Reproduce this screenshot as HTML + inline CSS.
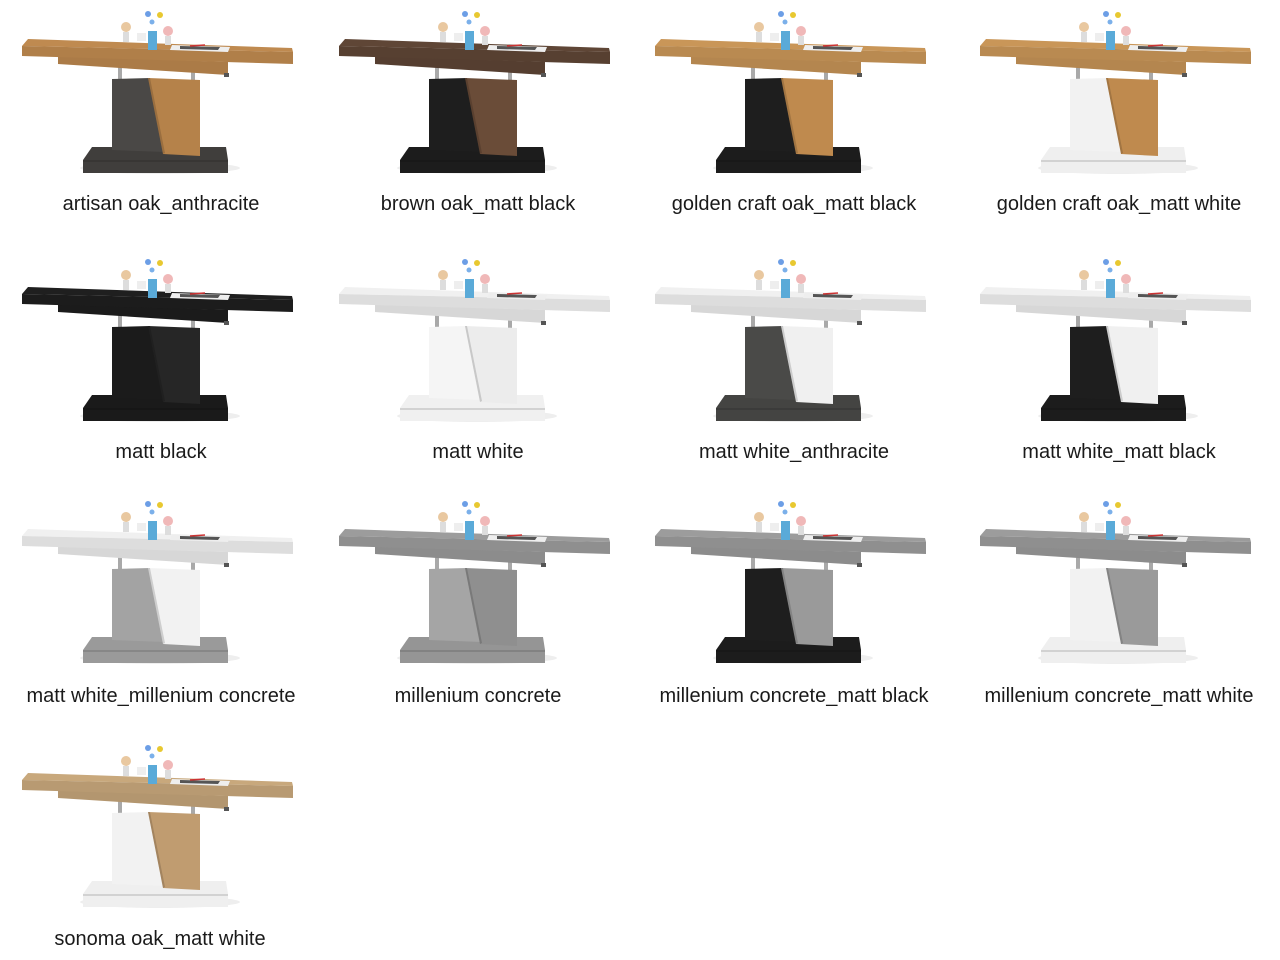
<!DOCTYPE html>
<html><head><meta charset="utf-8"><style>
html,body{margin:0;padding:0;background:#fff;width:1280px;height:960px;overflow:hidden}
svg{position:absolute;left:0;top:0}
.l{position:absolute;font-family:"Liberation Sans",sans-serif;font-size:20px;color:#1a1a1a;white-space:nowrap;transform:translateX(-50%)}
</style></head><body>
<svg width="1280" height="960" viewBox="0 0 1280 960">
<defs>
<g id="t">
  <ellipse cx="160" cy="168" rx="80" ry="6" fill="#eee"/>
  <polygon points="92,147 226,147 228,160 83,160" style="fill:var(--b)"/>
  <polygon points="83,160 228,160 228,173 83,173" style="fill:var(--b)"/>
  <polygon points="83,160 228,160 228,162 83,162" fill="#000" opacity=".12"/>
  <rect x="118" y="64" width="4" height="18" fill="#a9a9a9"/>
  <rect x="191" y="64" width="4" height="18" fill="#a9a9a9"/>
  <polygon points="112,79 150,78 165,152 112,150" style="fill:var(--c)"/>
  <polygon points="148,78 200,80 200,156 163,154" style="fill:var(--d)"/>
  <polygon points="148,78 150,78 165,153 163,154" fill="#000" opacity=".15"/>
  <polygon points="58,56 228,62 228,75 58,64" style="fill:var(--a)"/>
  <polygon points="58,56 228,62 228,75 58,64" fill="#000" opacity=".1"/>
  <polygon points="22,46 28,39 292,48 293,52" style="fill:var(--a)"/>
  <polygon points="22,46 293,52 293,64 22,56" style="fill:var(--a)"/>
  <polygon points="22,46 293,52 293,64 22,56" fill="#000" opacity=".08"/>
  <rect x="224" y="73" width="5" height="4" fill="#555"/>
  <rect x="148" y="31" width="9" height="19" fill="#5aaad8"/>
  <circle cx="148" cy="14" r="3" fill="#6c9ee6"/>
  <circle cx="160" cy="15" r="3" fill="#e8c830"/>
  <circle cx="152" cy="22" r="2.5" fill="#7bb0ea"/>
  <circle cx="126" cy="27" r="5" fill="#e9c8a0"/>
  <rect x="123" y="32" width="6" height="10" fill="#ddd"/>
  <circle cx="168" cy="31" r="5" fill="#f0b8b8"/>
  <rect x="165" y="36" width="6" height="9" fill="#ddd"/>
  <rect x="137" y="33" width="9" height="8" fill="#eee"/>
  <polygon points="172,45 230,47 228,52 170,50" fill="#eee"/>
  <polygon points="180,46 220,47 218,50 180,49" fill="#555"/>
  <line x1="190" y1="46" x2="205" y2="45" stroke="#c33" stroke-width="1.5"/>
</g>
</defs>
<use href="#t" x="0" y="0" style="--a:#bf8a50;--c:#4a4846;--d:#b5824a;--b:#403e3c"/>
<use href="#t" x="317" y="0" style="--a:#5f4636;--c:#1e1e1e;--d:#6a4c38;--b:#1c1c1c"/>
<use href="#t" x="633" y="0" style="--a:#c99658;--c:#1e1e1e;--d:#bf8a4e;--b:#1c1c1c"/>
<use href="#t" x="958" y="0" style="--a:#c99658;--c:#f2f2f2;--d:#bf8a4e;--b:#efefef"/>
<use href="#t" x="0" y="248" style="--a:#1f1f1f;--c:#1b1b1b;--d:#262626;--b:#1a1a1a"/>
<use href="#t" x="317" y="248" style="--a:#f0f0f0;--c:#f5f5f5;--d:#ececec;--b:#f0f0f0"/>
<use href="#t" x="633" y="248" style="--a:#f0f0f0;--c:#4a4a48;--d:#f0f0f0;--b:#444442"/>
<use href="#t" x="958" y="248" style="--a:#f0f0f0;--c:#1e1e1e;--d:#f0f0f0;--b:#1c1c1c"/>
<use href="#t" x="0" y="490" style="--a:#f0f0f0;--c:#a3a3a3;--d:#f2f2f2;--b:#9a9a9a"/>
<use href="#t" x="317" y="490" style="--a:#9c9c9c;--c:#a5a5a5;--d:#8f8f8f;--b:#959595"/>
<use href="#t" x="633" y="490" style="--a:#9c9c9c;--c:#1e1e1e;--d:#9a9a9a;--b:#1c1c1c"/>
<use href="#t" x="958" y="490" style="--a:#9c9c9c;--c:#f2f2f2;--d:#9a9a9a;--b:#efefef"/>
<use href="#t" x="0" y="734" style="--a:#c8a87c;--c:#f2f2f2;--d:#c09c70;--b:#efefef"/>
</svg>
<div class="l" style="left:161px;top:193px">artisan oak_anthracite</div>
<div class="l" style="left:478px;top:193px">brown oak_matt black</div>
<div class="l" style="left:794px;top:193px">golden craft oak_matt black</div>
<div class="l" style="left:1119px;top:193px">golden craft oak_matt white</div>
<div class="l" style="left:161px;top:441px">matt black</div>
<div class="l" style="left:478px;top:441px">matt white</div>
<div class="l" style="left:794px;top:441px">matt white_anthracite</div>
<div class="l" style="left:1119px;top:441px">matt white_matt black</div>
<div class="l" style="left:161px;top:685px">matt white_millenium concrete</div>
<div class="l" style="left:478px;top:685px">millenium concrete</div>
<div class="l" style="left:794px;top:685px">millenium concrete_matt black</div>
<div class="l" style="left:1119px;top:685px">millenium concrete_matt white</div>
<div class="l" style="left:160px;top:928px">sonoma oak_matt white</div>
</body></html>
